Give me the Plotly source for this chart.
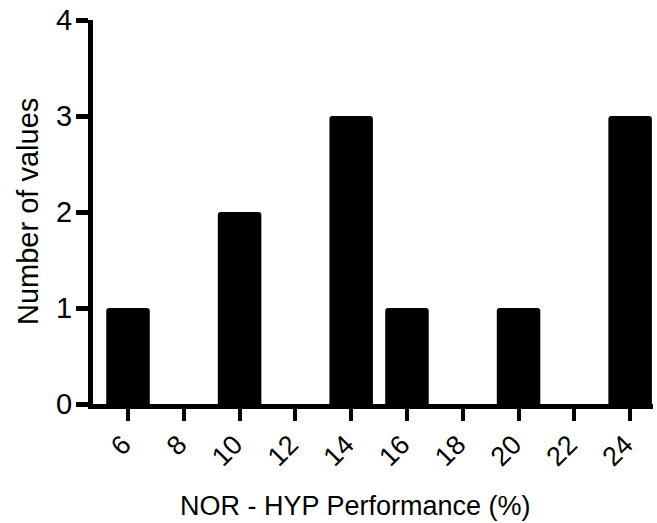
import plotly.graph_objects as go

bin_centers = [6, 10, 14, 16, 20, 24]
counts = [1, 2, 3, 1, 1, 3]
x_tick_vals = [6, 8, 10, 12, 14, 16, 18, 20, 22, 24]
x_tick_text = [str(v) for v in x_tick_vals]
y_tick_vals = [0, 1, 2, 3, 4]

FONT = "Liberation Sans, Arial, Helvetica, sans-serif"

fig = go.Figure()
fig.add_trace(go.Bar(
    x=bin_centers, y=counts, width=1.56,
    marker=dict(color="black", line=dict(width=0)),
))

fig.update_layout(
    width=657, height=523,
    margin=dict(l=93, r=4, t=20, b=119),
    plot_bgcolor="white", paper_bgcolor="white",
    showlegend=False,
    barcornerradius=3,
    font=dict(family=FONT, color="black"),
)
fig.update_xaxes(
    range=[4.745, 24.82], automargin=False,
    tickvals=x_tick_vals, ticktext=x_tick_text, tickangle=-45,
    ticks="outside", ticklen=12, tickwidth=4, tickcolor="black",
    ticklabelshift=-5, ticklabelstandoff=-3,
    showline=True, linewidth=5, linecolor="black",
    showgrid=False, zeroline=False,
    tickfont=dict(size=27, family=FONT),
)
fig.update_yaxes(
    range=[0, 4], tickvals=y_tick_vals, automargin=False,
    ticks="outside", ticklen=12, tickwidth=5, tickcolor="black",
    ticklabelstandoff=-2,
    showline=True, linewidth=5, linecolor="black",
    showgrid=False, zeroline=False,
    tickfont=dict(size=29, family=FONT),
)
fig.add_annotation(
    text="Number of values", xref="paper", yref="paper",
    x=-(93 - 28) / (653 - 93), y=0.5, textangle=-90,
    xanchor="center", yanchor="middle", showarrow=False,
    font=dict(size=29, family=FONT, color="black"),
)
fig.add_annotation(
    text="NOR - HYP Performance (%)", xref="paper", yref="paper",
    x=(355 - 93) / (653 - 93), y=-(506 - 404) / (404 - 20),
    xanchor="center", yanchor="middle", showarrow=False,
    font=dict(size=27, family=FONT, color="black"),
)
fig.write_html(
    "out.html",
    config={"displayModeBar": False},
    post_script="document.body.style.margin='0px';document.body.style.overflow='hidden';",
)
